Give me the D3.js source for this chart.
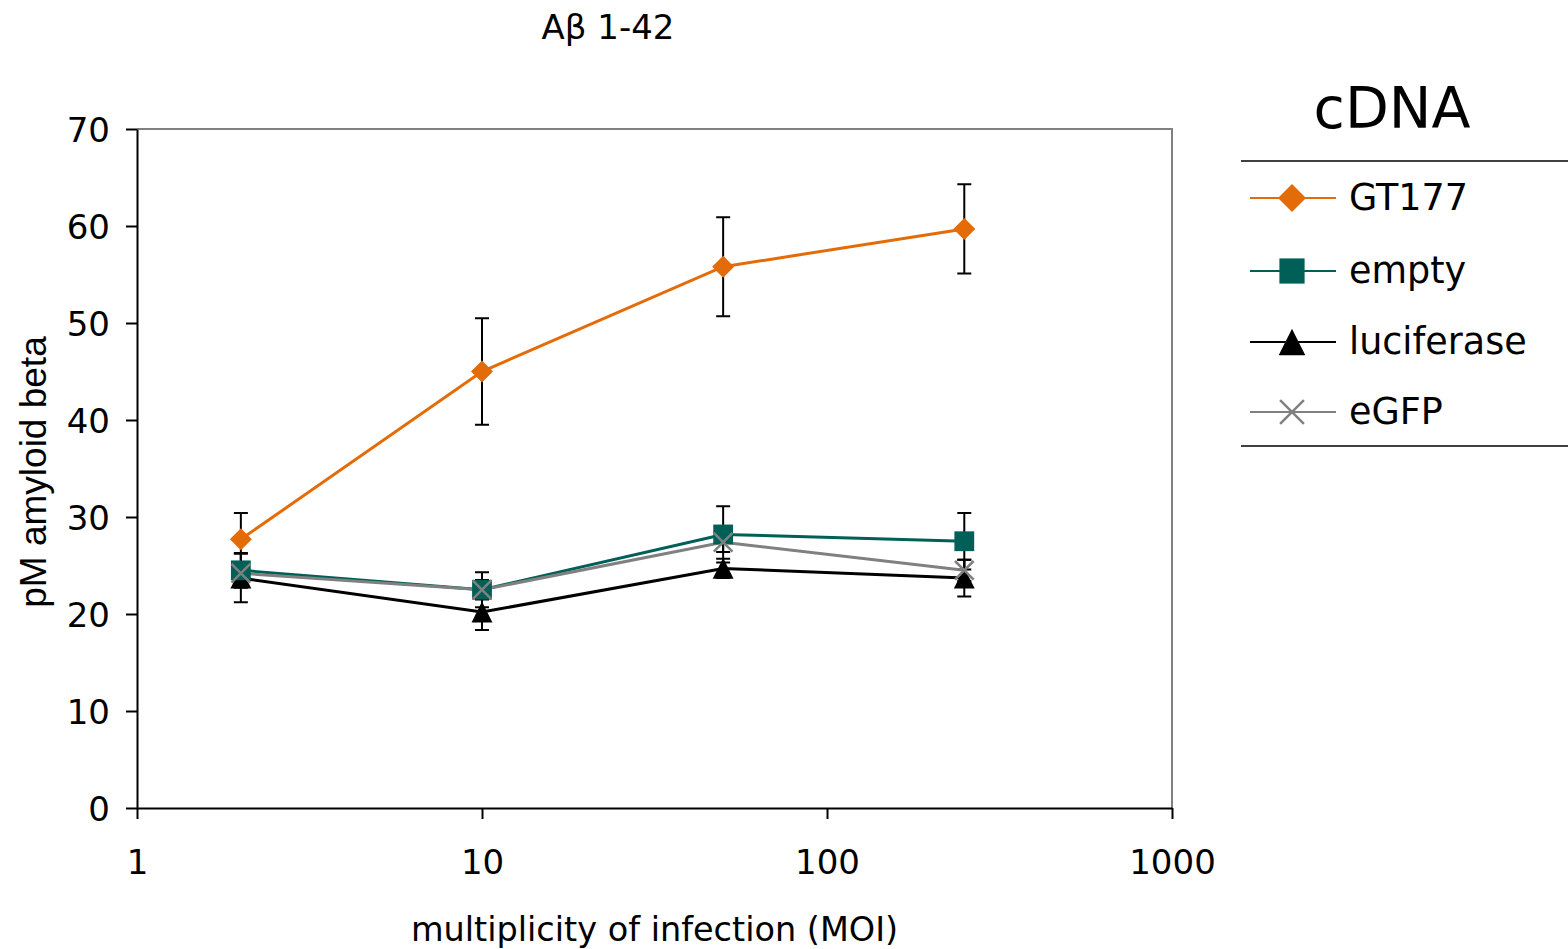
<!DOCTYPE html>
<html>
<head>
<meta charset="utf-8">
<script src="https://cdn.jsdelivr.net/npm/d3@7"></script>
<style>
  body { margin: 0; background: #fff; }
  svg { display: block; }
</style>
</head>
<body>
<div id="chart"></div>
<script>
// data
const moi = [2, 10, 50, 250];
const gt177 = [27.7, 45.0, 55.8, 59.7];
const gt177Err = [2.7, 5.5, 5.1, 4.6];
const empty = [24.5, 22.5, 28.2, 27.5];
const emptyErr = [1.8, 1.8, 2.9, 2.9];
const luciferase = [23.7, 20.2, 24.7, 23.7];
const luciferaseErr = [2.5, 1.85, 1.0, 1.9];
const egfp = [24.2, 22.5, 27.4, 24.5];
const egfpErr = [1.0, 1.0, 1.0, 1.1];
const xTicks = [1, 10, 100, 1000];
const yTicks = [0, 10, 20, 30, 40, 50, 60, 70];

const series = [
  { name: "GT177", values: gt177, err: gt177Err, color: "#e36c09", marker: "diamond" },
  { name: "empty", values: empty, err: emptyErr, color: "#005f56", marker: "square" },
  { name: "luciferase", values: luciferase, err: luciferaseErr, color: "#000000", marker: "triangle" },
  { name: "eGFP", values: egfp, err: egfpErr, color: "#808080", marker: "cross" },
];

var W = 1568, H = 949;
var plot = { left: 137, top: 129, right: 1172, bottom: 808 };

var svg = d3.select("#chart").append("svg")
  .attr("width", W).attr("height", H);

var x = d3.scaleLog().domain([1, 1000]).range([plot.left, plot.right]);
var y = d3.scaleLinear().domain([0, 70]).range([plot.bottom, plot.top]);

// plot frame (top + right in gray)
svg.append("path")
  .attr("d", `M${plot.left},${plot.top}H${plot.right}V${plot.bottom}`)
  .attr("fill", "none").attr("stroke", "#808080").attr("stroke-width", 2);

// axes
var yAxis = svg.append("g")
  .attr("transform", `translate(${plot.left},0)`)
  .call(d3.axisLeft(y).tickValues(yTicks).tickSize(11).tickSizeOuter(0).tickPadding(16));
var xAxis = svg.append("g")
  .attr("transform", `translate(0,${plot.bottom})`)
  .call(d3.axisBottom(x).tickValues(xTicks).tickFormat(d3.format("d")).tickSize(11).tickSizeOuter(0).tickPadding(31));

[xAxis, yAxis].forEach(function (a) {
  a.select(".domain").attr("stroke", "#000").attr("stroke-width", 2);
  a.selectAll(".tick line").attr("stroke", "#000").attr("stroke-width", 2);
  a.selectAll("text")
    .attr("fill", "#000")
    .style("font-family", "'DejaVu Sans', Verdana, sans-serif")
    .style("font-size", "34px");
});
yAxis.selectAll("text").attr("dy", "0.36em");
xAxis.selectAll("text").attr("dy", "0.72em");

// error bars
var capW = 7;
series.forEach(function (s) {
  var g = svg.append("g").attr("stroke", "#000").attr("stroke-width", 2).attr("fill", "none");
  s.values.forEach(function (v, i) {
    var cx = x(moi[i]), y0 = y(v - s.err[i]), y1 = y(v + s.err[i]);
    g.append("path")
      .attr("d", `M${cx},${y0}V${y1}M${cx - capW},${y0}H${cx + capW}M${cx - capW},${y1}H${cx + capW}`);
  });
});

// lines
var line = d3.line()
  .x(function (d, i) { return x(moi[i]); })
  .y(function (d) { return y(d); });
series.forEach(function (s) {
  svg.append("path")
    .datum(s.values)
    .attr("d", line)
    .attr("fill", "none")
    .attr("stroke", s.color)
    .attr("stroke-width", 3);
});

function drawMarker(g, s, cx, cy, r) {
  if (s.marker == "diamond") {
    g.append("path").attr("d", `M${cx},${cy - r}L${cx + r},${cy}L${cx},${cy + r}L${cx - r},${cy}Z`)
      .attr("fill", s.color);
  } else if (s.marker == "square") {
    var h = r * 0.9;
    g.append("rect").attr("x", cx - h).attr("y", cy - h).attr("width", 2 * h).attr("height", 2 * h)
      .attr("fill", s.color);
  } else if (s.marker == "triangle") {
    var t = r * 0.95;
    g.append("path").attr("d", `M${cx},${cy - t}L${cx + t},${cy + t}L${cx - t},${cy + t}Z`)
      .attr("fill", s.color);
  } else {
    var c = r * 0.85;
    g.append("path").attr("d", `M${cx - c},${cy - c}L${cx + c},${cy + c}M${cx - c},${cy + c}L${cx + c},${cy - c}`)
      .attr("stroke", s.color).attr("stroke-width", 2.5).attr("fill", "none");
  }
}

// markers: luciferase, empty, eGFP, GT177 on top
[2, 1, 3, 0].forEach(function (k) {
  var s = series[k];
  var g = svg.append("g");
  s.values.forEach(function (v, i) {
    drawMarker(g, s, x(moi[i]), y(v), 11);
  });
});

// title
svg.append("text")
  .attr("x", 608).attr("y", 39)
  .attr("text-anchor", "middle")
  .style("font-family", "'DejaVu Sans', Verdana, sans-serif")
  .style("font-size", "34px")
  .text("Aβ 1-42");

// axis labels
svg.append("text")
  .attr("x", (plot.left + plot.right) / 2).attr("y", 941)
  .attr("text-anchor", "middle")
  .style("font-family", "'DejaVu Sans', Verdana, sans-serif")
  .style("font-size", "33.5px")
  .text("multiplicity of infection (MOI)");

svg.append("text")
  .attr("transform", "translate(46,472) rotate(-90)")
  .attr("text-anchor", "middle")
  .style("font-family", "'Liberation Sans', Arial, sans-serif")
  .style("font-size", "37px")
  .text("pM amyloid beta");

// legend
var lg = svg.append("g");
lg.append("text")
  .attr("x", 1392).attr("y", 128)
  .attr("text-anchor", "middle")
  .style("font-family", "'DejaVu Sans', Verdana, sans-serif")
  .style("font-size", "57px")
  .text("cDNA");
[161, 446].forEach(function (ly) {
  lg.append("line").attr("x1", 1241).attr("x2", W).attr("y1", ly).attr("y2", ly)
    .attr("stroke", "#404040").attr("stroke-width", 2);
});
var legendY = [198, 271, 342, 412];
series.forEach(function (s, i) {
  var ly = legendY[i];
  lg.append("line").attr("x1", 1250).attr("x2", 1336).attr("y1", ly).attr("y2", ly)
    .attr("stroke", s.color).attr("stroke-width", 2);
  drawMarker(lg, s, 1292, ly, 14);
  lg.append("text")
    .attr("x", 1349).attr("y", ly + 12)
    .style("font-family", "'DejaVu Sans', Verdana, sans-serif")
    .style("font-size", "36.5px")
    .text(s.name);
});
</script>
</body>
</html>
